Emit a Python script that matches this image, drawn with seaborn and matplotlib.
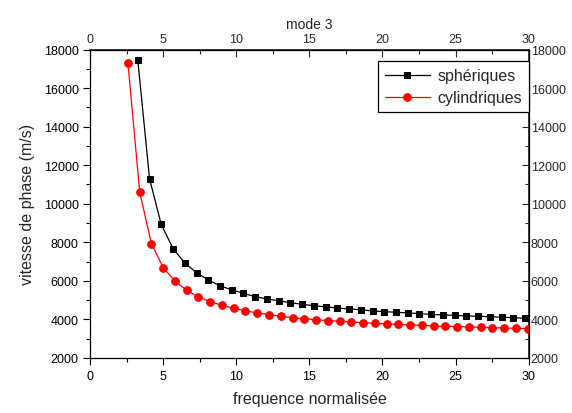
import matplotlib
matplotlib.use("Agg")
import matplotlib.pyplot as plt
import numpy as np
import pandas as pd
import seaborn as sns

# Phase velocity vs normalised frequency, mode 3
freq_sph = [3.25, 4.05, 4.85, 5.66, 6.46, 7.27, 8.07, 8.87, 9.67, 10.48,
            11.28, 12.09, 12.89, 13.69, 14.50, 15.30, 16.10, 16.91, 17.71, 18.51,
            19.32, 20.12, 20.92, 21.73, 22.53, 23.33, 24.14, 24.94, 25.74, 26.55,
            27.35, 28.15, 28.96, 29.76]
vit_sph = [17430, 11300, 8930, 7670, 6930, 6420, 6050, 5740, 5540, 5350,
           5180, 5060, 4960, 4870, 4780, 4710, 4650, 4590, 4540, 4500,
           4440, 4400, 4370, 4335, 4300, 4260, 4230, 4210, 4180, 4160,
           4140, 4110, 4090, 4055]

freq_cyl = [2.57, 3.38, 4.18, 4.99, 5.79, 6.60, 7.40, 8.21, 9.01, 9.82,
            10.62, 11.43, 12.23, 13.04, 13.84, 14.65, 15.45, 16.26, 17.06, 17.87,
            18.67, 19.48, 20.28, 21.09, 21.89, 22.70, 23.50, 24.31, 25.11, 25.92,
            26.72, 27.53, 28.33, 29.14, 29.94]
vit_cyl = [17300, 10590, 7930, 6680, 5990, 5510, 5160, 4920, 4730, 4570,
           4440, 4335, 4250, 4160, 4080, 4025, 3990, 3935, 3900, 3865,
           3830, 3795, 3765, 3735, 3710, 3690, 3660, 3640, 3625, 3610,
           3590, 3570, 3555, 3535, 3520]

x_ticks = [0, 5, 10, 15, 20, 25, 30]
y_ticks = [2000, 4000, 6000, 8000, 10000, 12000, 14000, 16000, 18000]
x_minor = np.arange(0, 30.1, 2.5)
y_minor = np.arange(2000, 18001, 1000)

sph = pd.DataFrame({"freq": freq_sph, "vit": vit_sph})
cyl = pd.DataFrame({"freq": freq_cyl, "vit": vit_cyl})

sns.set_theme(style="ticks")
plt.rcParams["font.family"] = ["Liberation Sans", "DejaVu Sans"]

fig = plt.figure(figsize=(5.72, 4.14), dpi=100)
ax = fig.add_axes([0.158, 0.133, 0.766, 0.745])

sns.lineplot(data=sph, x="freq", y="vit", ax=ax, color="black", marker="s",
             markersize=5, markeredgecolor="black", linewidth=0.9,
             sort=False, estimator=None, label="sphériques")
sns.lineplot(data=cyl, x="freq", y="vit", ax=ax, color="red", marker="o",
             markersize=5.5, markeredgecolor="red", linewidth=0.9,
             sort=False, estimator=None, label="cylindriques")

ax.set_xlim(0, 30)
ax.set_ylim(2000, 18000)
ax.set_xticks(x_ticks)
ax.set_xticks(x_minor, minor=True)
ax.set_yticks(y_ticks)
ax.set_yticks(y_minor, minor=True)
ax.tick_params(which="both", direction="out", colors="black", labelsize=9, width=0.8)
ax.tick_params(which="major", length=5)
ax.tick_params(which="minor", length=3)

for s in ax.spines.values():
    s.set_visible(True)
    s.set_color("black")
    s.set_linewidth(0.9)

ax.set_xlabel("frequence normalisée", fontsize=11.5, labelpad=7)
ax.set_ylabel("vitesse de phase (m/s)", fontsize=11.5, labelpad=6)

# mirror axes on top and right
top = ax.secondary_xaxis("top")
top.set_xticks(x_ticks)
top.set_xticks(x_minor, minor=True)
top.tick_params(which="both", direction="in", labelsize=9, width=0.8)
top.tick_params(which="major", length=5, pad=3)
top.tick_params(which="minor", length=3)
top.set_xlabel("mode 3", fontsize=10, labelpad=4)

right = ax.secondary_yaxis("right")
right.set_yticks(y_ticks)
right.set_yticks(y_minor, minor=True)
right.tick_params(which="both", direction="in", labelsize=9, width=0.8)
right.tick_params(which="major", length=5, pad=1.5)
right.tick_params(which="minor", length=3)

leg = ax.legend(loc="upper right", bbox_to_anchor=(1.002, 0.963), fontsize=11.5,
                frameon=True, fancybox=False, edgecolor="black", framealpha=1,
                handlelength=2.8, borderpad=0.45, labelspacing=0.45,
                handletextpad=0.5, borderaxespad=0)
leg.get_frame().set_linewidth(0.9)

fig.savefig("out.png", dpi=100)
